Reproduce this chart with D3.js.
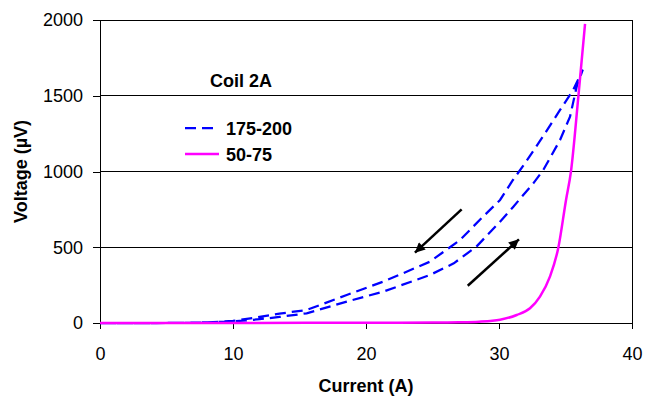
<!DOCTYPE html>
<html><head><meta charset="utf-8">
<script src="https://cdn.jsdelivr.net/npm/d3@7"></script>
<style>
html,body{margin:0;padding:0;background:#fff;}
svg text{font-family:"Liberation Sans",Arial,sans-serif;fill:#000;}
</style></head>
<body><svg id="c" width="647" height="396"></svg>
<script>
// Data (Current A, Voltage µV)
const xTicks = [0,10,20,30,40];
const yTicks = [0,500,1000,1500,2000];
const seriesNames = ["175-200","50-75"];
const legendTitle = "Coil 2A";
const coil175Up = [[0,0],[5,0],[7,2],[10,10],[12,25],[13.5,40],[15.54,64],[18.55,141],[21.3,207],[24.81,317],[26.6,394],[28.3,504],[30.08,669],[31.08,768],[32.58,922],[33.33,1010],[34.59,1208],[35.34,1362],[35.84,1560],[36.3,1672]];
const coil175Down = [[36.3,1672],[35.58,1538],[34.59,1406],[33.46,1252],[31.95,1054],[31.05,944],[30.08,812],[28.8,702],[27.07,548],[24.81,405],[22.56,320],[21.3,273],[18.55,185],[15.54,86],[13.5,62],[12,40],[10,14],[8,3],[5,0],[0,0]];
const coil50 = [[0,0],[10,0],[20,2],[25,3],[27,5],[28.5,9],[29.5,15],[30.08,22],[31.33,53],[32.33,97],[33.08,174],[33.83,306],[34.46,497],[35.04,812],[35.41,999],[35.97,1498],[36.47,1974]];
const arrows = [[[27.19,750],[23.68,464]],[[27.65,246],[31.5,552]]];

const svg = d3.select("#c");
const x = d3.scaleLinear().domain([0,40]).range([100,632]);
const y = d3.scaleLinear().domain([0,2000]).range([323,20]);
const FS = 18;

// gridlines
svg.append("g").selectAll("line").data(yTicks.filter(d=>d>0)).join("line")
  .attr("x1",x(0)).attr("x2",x(40)).attr("y1",d=>y(d)).attr("y2",d=>y(d))
  .attr("stroke","#000").attr("stroke-width",1).attr("shape-rendering","crispEdges");
// right border
svg.append("line").attr("x1",x(40)).attr("x2",x(40)).attr("y1",y(0)).attr("y2",y(2000))
  .attr("stroke","#000").attr("shape-rendering","crispEdges");

// axes
const ax = svg.append("g").attr("transform",`translate(0,${y(0)})`)
  .call(d3.axisBottom(x).tickValues(xTicks).tickSize(6).tickPadding(18).tickFormat(d3.format("d")));
const ay = svg.append("g").attr("transform",`translate(${x(0)},0)`)
  .call(d3.axisLeft(y).tickValues(yTicks).tickSize(7).tickPadding(10).tickFormat(d3.format("d")));
[ax,ay].forEach(g=>{
  g.select(".domain").attr("stroke","#000").attr("shape-rendering","crispEdges");
  g.selectAll(".tick line").attr("stroke","#000").attr("shape-rendering","crispEdges");
  g.selectAll("text").style("font-size",FS+"px").style("font-family","'Liberation Sans',Arial,sans-serif").attr("fill","#000");
});
ay.selectAll(".domain").attr("d",`M0,${y(0)}V${y(2000)}`);

// lines
const line = d3.line().x(d=>x(d[0])).y(d=>y(d[1]));
svg.append("path").datum(coil175Up.concat(coil175Down.slice(1))).attr("d",line)
  .attr("fill","none").attr("stroke","#0000FF").attr("stroke-width",2.25).attr("stroke-dasharray","11,6");
svg.append("path").datum(coil50).attr("d",line.curve(d3.curveMonotoneX))
  .attr("fill","none").attr("stroke","#FF00FF").attr("stroke-width",2.5);

// arrows
svg.append("defs").append("marker").attr("id","ah").attr("viewBox","0 0 10 10")
  .attr("refX",10).attr("refY",5).attr("markerWidth",13).attr("markerHeight",10)
  .attr("markerUnits","userSpaceOnUse").attr("orient","auto")
  .append("path").attr("d","M0,0L10,5L0,10Z").attr("fill","#000");
svg.append("g").selectAll("line").data(arrows).join("line")
  .attr("x1",d=>x(d[0][0])).attr("y1",d=>y(d[0][1]))
  .attr("x2",d=>x(d[1][0])).attr("y2",d=>y(d[1][1]))
  .attr("stroke","#000").attr("stroke-width",2.5).attr("marker-end","url(#ah)");

// axis titles
svg.append("text").attr("x",(x(0)+x(40))/2).attr("y",392).attr("text-anchor","middle")
  .style("font-size",FS+"px").style("font-weight","bold").text("Current (A)");
svg.append("text").attr("transform",`translate(27,${(y(0)+y(2000))/2}) rotate(-90)`).attr("text-anchor","middle")
  .style("font-size",FS+"px").style("font-weight","bold").text("Voltage (µV)");

// legend
svg.append("text").attr("x",241).attr("y",87).attr("text-anchor","middle")
  .style("font-size",FS+"px").style("font-weight","bold").text(legendTitle);
const leg = [{name:seriesNames[0],color:"#0000FF",dash:"11,6",w:2.25,y:128},{name:seriesNames[1],color:"#FF00FF",dash:null,w:2.5,y:154}];
const lg = svg.append("g").selectAll("g").data(leg).join("g");
lg.append("line").attr("x1",185).attr("x2",219).attr("y1",d=>d.y).attr("y2",d=>d.y)
  .attr("stroke",d=>d.color).attr("stroke-width",d=>d.w).attr("stroke-dasharray",d=>d.dash);
lg.append("text").attr("x",226).attr("y",d=>d.y+6.5)
  .style("font-size",FS+"px").style("font-weight","bold").text(d=>d.name);
</script></body></html>
